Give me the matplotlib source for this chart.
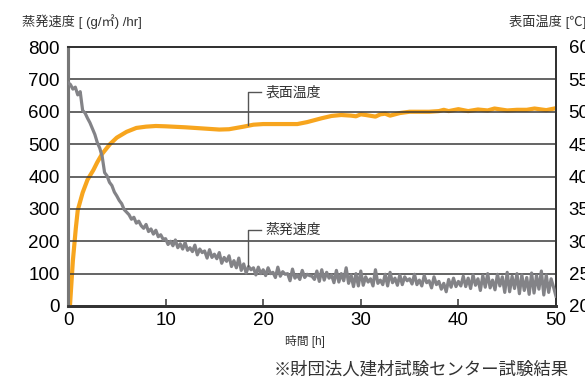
import numpy as np
import matplotlib.pyplot as plt

plt.rcParams['font.family'] = ['Liberation Sans', 'Noto Sans CJK JP', 'DejaVu Sans']

# ---------------------------------------------------------------------------
# Données
# ---------------------------------------------------------------------------

# Vitesse d'évaporation (g/m2/hr), pas de 0.25 h de 0 à 50 h
evap_step = 0.25
evap_values = [
    690, 684, 670, 676, 652, 662, 604, 596, 580, 566, 548, 530, 505, 488, 462, 412, 402, 382, 372, 352,
    340, 326, 316, 298, 290, 282, 268, 274, 256, 262, 248, 240, 252, 230, 238, 222, 234, 214, 220, 206,
    208, 190, 200, 186, 204, 180, 192, 176, 196, 172, 180, 168, 188, 158, 176, 165, 170, 148, 174, 150,
    160, 146, 165, 132, 150, 138, 155, 122, 140, 118, 148, 110, 130, 102, 122, 112, 118, 96, 120, 100,
    112, 94, 118, 100, 104, 88, 120, 92, 106, 98, 100, 78, 114, 86, 96, 82, 110, 88, 98, 94,
    92, 82, 108, 76, 112, 80, 104, 86, 96, 72, 110, 74, 100, 78, 118, 70, 96, 60, 100, 62,
    108, 64, 90, 74, 84, 62, 112, 70, 80, 66, 98, 62, 104, 72, 86, 64, 96, 66, 90, 78,
    84, 68, 98, 66, 80, 62, 94, 72, 78, 56, 90, 66, 76, 52, 70, 44, 82, 58, 86, 60,
    76, 62, 92, 60, 86, 54, 96, 64, 84, 48, 94, 58, 100, 56, 80, 50, 98, 62, 90, 42,
    104, 44, 92, 54, 100, 38, 96, 48, 88, 36, 102, 40, 94, 52, 108, 34, 96, 42, 84, 58,
    30,
]
evap_time = np.arange(len(evap_values)) * evap_step

# Température de surface (°C)
temp_time = [0.2, 0.5, 0.8, 1.0, 1.5, 2.0, 2.6, 3.0, 3.5, 4.3, 5.0, 6.0, 7.0, 8.0, 9.0,
             10, 12, 14, 15.5, 16.5, 18, 19, 20, 22, 23.5, 24.5, 26, 27, 28, 29, 29.5,
             30, 30.5, 31.5, 32, 32.5, 33, 34, 35, 36, 37, 38, 38.5, 39, 40, 41, 42,
             43, 43.7, 45, 46, 47, 47.8, 49, 50]
temp_values = [20, 27, 32, 34.8, 37.5, 39.5, 41, 42.2, 43.5, 45, 46, 46.9, 47.5, 47.7, 47.8,
               47.75, 47.6, 47.4, 47.25, 47.3, 47.7, 48, 48.1, 48.1, 48.1, 48.4, 49, 49.35,
               49.5, 49.4, 49.3, 49.6, 49.5, 49.25, 49.6, 49.7, 49.4, 49.8, 50, 50, 50,
               50.1, 50.3, 50.1, 50.4, 50.1, 50.35, 50.2, 50.5, 50.2, 50.3, 50.3, 50.5,
               50.25, 50.55]

evap_ticks = [0, 100, 200, 300, 400, 500, 600, 700, 800]
temp_ticks = [20, 25, 30, 35, 40, 45, 50, 55, 60]
time_ticks = [0, 10, 20, 30, 40, 50]

# ---------------------------------------------------------------------------
# Figure
# ---------------------------------------------------------------------------

W, H = 585, 381
fig = plt.figure(figsize=(W / 100, H / 100), dpi=100)
x0, x1, y0, y1 = 68, 556, 47, 306
ax = fig.add_axes([x0 / W, 1 - y1 / H, (x1 - x0) / W, (y1 - y0) / H])
ax2 = ax.twinx()

bg = '#FEFAE6'
ax2.set_facecolor(bg)
ax.set_zorder(ax2.get_zorder() + 1)
ax.patch.set_visible(False)

# Lignes horizontales
for v in evap_ticks[1:-1]:
    ax.axhline(v, color='#3a3a3a', lw=1.1, zorder=1)

ax.plot(evap_time, evap_values, color='#838387', lw=2.3, zorder=3, solid_joinstyle='round')
ax2.plot(temp_time, temp_values, color='#F7A51E', lw=3.0, zorder=3, solid_capstyle='butt')

ax.set_xlim(0, 50)
ax.set_ylim(0, 800)
ax2.set_ylim(20, 60)

ax.set_xticks(time_ticks)
ax.set_yticks(evap_ticks)
ax2.set_yticks(temp_ticks)

ax.tick_params(axis='x', direction='in', length=5, width=1.2, color='#444',
               labelsize=13.5, pad=4)
ax.tick_params(axis='y', length=0, labelsize=13.5, pad=6)
ax2.tick_params(axis='y', length=0, labelsize=13.5, pad=9)

for a in (ax, ax2):
    a.spines['top'].set_color('#333')
    a.spines['top'].set_linewidth(1.4)
    a.spines['right'].set_color('#333')
    a.spines['right'].set_linewidth(1.4)
    a.spines['left'].set_color('#777')
    a.spines['left'].set_linewidth(2.2)
    a.spines['bottom'].set_color('#333')
    a.spines['bottom'].set_linewidth(2.0)

# Annotations (traits de rappel)
lead = '#555'
ax.plot([18.4, 18.4, 19.8], [558, 660, 660], color=lead, lw=1.0, zorder=4)
ax.text(20.2, 660, '表面温度', fontsize=10, va='center', ha='left', color='#333', zorder=5)
ax.plot([18.4, 18.4, 19.8], [125, 235, 235], color=lead, lw=1.0, zorder=4)
ax.text(20.2, 235, '蒸発速度', fontsize=10, va='center', ha='left', color='#333', zorder=5)

# Textes
fig.text(22 / W, 1 - 22 / H, '蒸発速度 [ (g/㎡) /hr]', fontsize=9.5, va='center', ha='left', color='#333')
fig.text(509 / W, 1 - 22 / H, '表面温度 [℃]', fontsize=9.5, va='center', ha='left', color='#333')
fig.text(305 / W, 1 - 341 / H, '時間 [h]', fontsize=8.5, va='center', ha='center', color='#333')
fig.text(274 / W, 1 - 369 / H, '※財団法人建材試験センター試験結果', fontsize=12.5,
         va='center', ha='left', color='#333')

fig.savefig('out.png', dpi=100, facecolor='white')
